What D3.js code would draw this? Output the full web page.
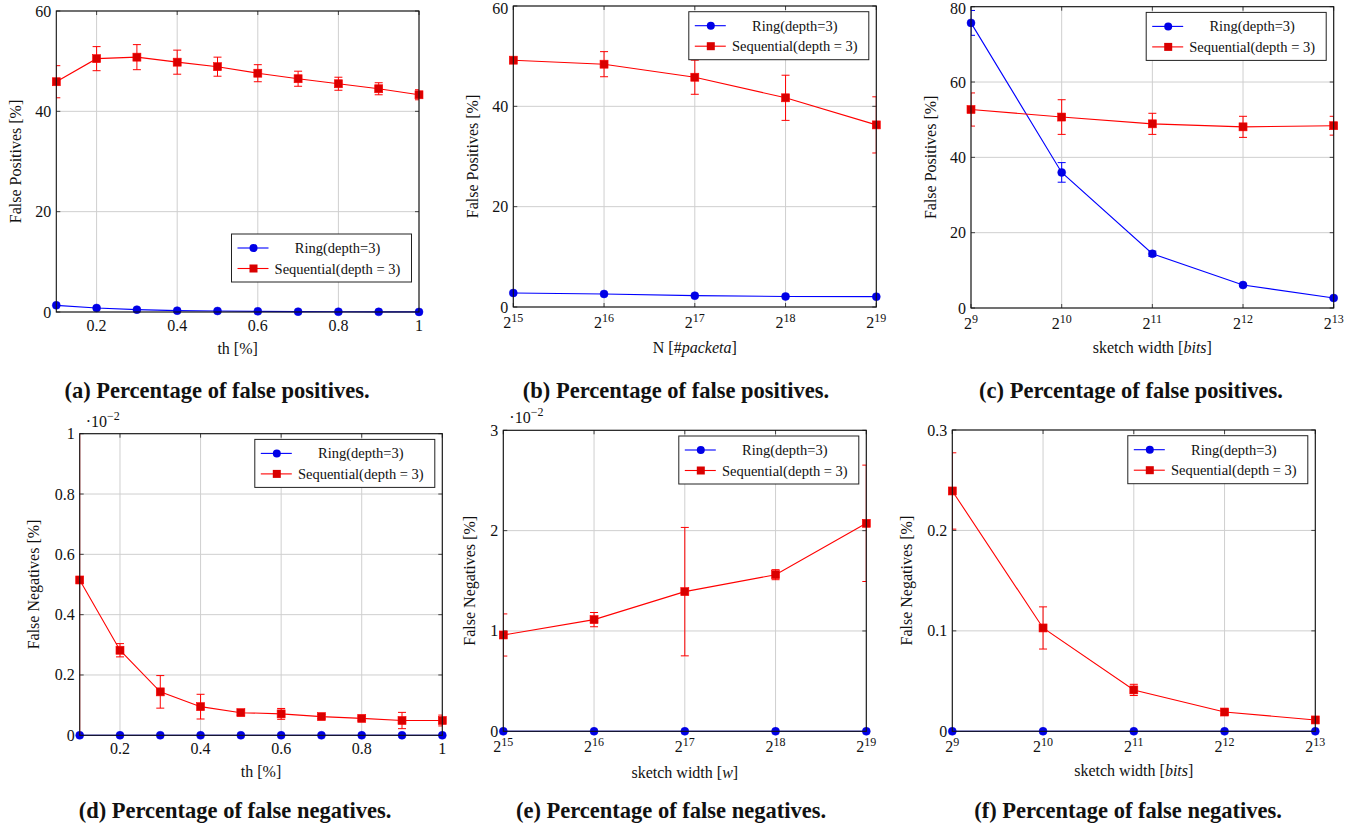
<!DOCTYPE html>
<html><head><meta charset="utf-8">
<script src="https://cdn.jsdelivr.net/npm/d3@7"></script>
<style>
body{margin:0;background:#fff}
svg{display:block}
text{font-family:"Liberation Serif","Times New Roman",serif;fill:#111}
</style>
</head><body>
<svg id="chart" width="1361" height="831"></svg>
<script>
// ---------------- DATA ----------------
const seriesNames = ["Ring(depth=3)", "Sequential(depth = 3)"];

// th [%] thresholds (panels a, d)
const thValues = [0.1, 0.2, 0.3, 0.4, 0.5, 0.6, 0.7, 0.8, 0.9, 1.0];
const thTicks = [0.2, 0.4, 0.6, 0.8, 1];

// N [#packeta] (panel b) and sketch width [w] (panel e)
const packetValues = [32768, 65536, 131072, 262144, 524288];
const packetTicks = [32768, 65536, 131072, 262144, 524288];
// sketch width [bits] (panels c, f)
const bitsValues = [512, 1024, 2048, 4096, 8192];
const bitsTicks = [512, 1024, 2048, 4096, 8192];

// (a) false positives vs th
const fpThRing = [1.33, 0.8, 0.47, 0.27, 0.2, 0.13, 0.07, 0.05, 0.03, 0.02];
const fpThRingErr = [0, 0, 0, 0, 0, 0, 0, 0, 0, 0];
const fpThSeq = [45.9, 50.5, 50.8, 49.8, 48.9, 47.6, 46.5, 45.5, 44.5, 43.3];
const fpThSeqErr = [3.2, 2.4, 2.5, 2.4, 1.9, 1.7, 1.5, 1.3, 1.2, 1.0];
const fpThYTicks = [0, 20, 40, 60];

// (b) false positives vs N
const fpNRing = [2.8, 2.6, 2.26, 2.1, 2.06];
const fpNRingErr = [0, 0, 0, 0, 0];
const fpNSeq = [49.2, 48.4, 45.8, 41.7, 36.3];
const fpNSeqErr = [0, 2.5, 3.4, 4.5, 5.6];
const fpNYTicks = [0, 20, 40, 60];

// (c) false positives vs sketch width
const fpWRing = [75.7, 36.0, 14.4, 6.1, 2.65];
const fpWRingErr = [3.3, 2.6, 0.7, 0.3, 0.2];
const fpWSeq = [52.7, 50.7, 48.9, 48.1, 48.4];
const fpWSeqErr = [4.4, 4.6, 2.8, 2.8, 2.5];
const fpWYTicks = [0, 20, 40, 60, 80];

// (d) false negatives vs th (x 10^-2)
const fnThRing = [0, 0, 0, 0, 0, 0, 0, 0, 0, 0];
const fnThRingErr = [0, 0, 0, 0, 0, 0, 0, 0, 0, 0];
const fnThSeq = [0.515, 0.282, 0.144, 0.095, 0.075, 0.071, 0.062, 0.056, 0.049, 0.049];
const fnThSeqErr = [0.53, 0.022, 0.054, 0.041, 0.009, 0.018, 0.007, 0.007, 0.027, 0.018];
const fnThYTicks = [0, 0.2, 0.4, 0.6, 0.8, 1];

// (e) false negatives vs sketch width [w] (x 10^-2)
const fnNRing = [0, 0, 0, 0, 0];
const fnNRingErr = [0, 0, 0, 0, 0];
const fnNSeq = [0.96, 1.113, 1.392, 1.561, 2.073];
const fnNSeqErr = [0.21, 0.071, 0.64, 0.05, 0.58];
const fnNYTicks = [0, 1, 2, 3];

// (f) false negatives vs sketch width [bits]
const fnWRing = [0, 0, 0, 0, 0];
const fnWRingErr = [0, 0, 0, 0, 0];
const fnWSeq = [0.2393, 0.1029, 0.0412, 0.0192, 0.0113];
const fnWSeqErr = [0.038, 0.021, 0.0056, 0.002, 0.002];
const fnWYTicks = [0, 0.1, 0.2, 0.3];

// ---------------- DRAWING ----------------
const svg = d3.select("#chart");
const BLUE = "#0000ff", BLUE_MARK = "#0000e6";
const RED = "#ff0000", RED_MARK = "#d90000";
const TICK_FS = 16, LABEL_FS = 16;
let clipId = 0;

function drawPanel(cfg) {
  const {x0, x1, y0, y1} = cfg.box;
  const g = svg.append("g");
  const x = cfg.log2
    ? d3.scaleLog().base(2).domain(cfg.xDomain).range([x0, x1])
    : d3.scaleLinear().domain(cfg.xDomain).range([x0, x1]);
  const y = d3.scaleLinear().domain(cfg.yDomain).range([y1, y0]);

  // grid
  g.append("g").selectAll("line").data(cfg.xTicks).join("line")
    .attr("x1", d => x(d)).attr("x2", d => x(d)).attr("y1", y0).attr("y2", y1)
    .attr("stroke", "#cfcfcf").attr("stroke-width", 1);
  g.append("g").selectAll("line").data(cfg.yTicks).join("line")
    .attr("x1", x0).attr("x2", x1).attr("y1", d => y(d)).attr("y2", d => y(d))
    .attr("stroke", "#cfcfcf").attr("stroke-width", 1);

  // inward tick marks
  const tl = 4;
  const tk = g.append("g").attr("stroke", "#444").attr("stroke-width", 1);
  cfg.xTicks.forEach(d => {
    tk.append("line").attr("x1", x(d)).attr("x2", x(d)).attr("y1", y1).attr("y2", y1 - tl);
    tk.append("line").attr("x1", x(d)).attr("x2", x(d)).attr("y1", y0).attr("y2", y0 + tl);
  });
  cfg.yTicks.forEach(d => {
    tk.append("line").attr("x1", x0).attr("x2", x0 + tl).attr("y1", y(d)).attr("y2", y(d));
    tk.append("line").attr("x1", x1).attr("x2", x1 - tl).attr("y1", y(d)).attr("y2", y(d));
  });

  // clip
  const cid = "clip" + (clipId++);
  svg.append("clipPath").attr("id", cid).append("rect")
    .attr("x", x0).attr("y", y0).attr("width", x1 - x0).attr("height", y1 - y0);

  const series = [
    {vals: cfg.ring, errs: cfg.ringErr, line: BLUE, mark: BLUE_MARK, shape: "circle"},
    {vals: cfg.seq, errs: cfg.seqErr, line: RED, mark: RED_MARK, shape: "square"}
  ];
  series.forEach(s => {
    const pts = cfg.xValues.map((xv, i) => ({x: xv, y: s.vals[i], e: s.errs[i]}));
    const sg = g.append("g");
    // error bars
    const eb = sg.append("g").attr("clip-path", `url(#${cid})`)
      .attr("stroke", s.line).attr("stroke-width", 1).attr("fill", "none");
    pts.filter(p => p.e > 0).forEach(p => {
      const px = x(p.x), ylo = y(p.y - p.e), yhi = y(p.y + p.e);
      eb.append("line").attr("x1", px).attr("x2", px).attr("y1", ylo).attr("y2", yhi);
      eb.append("line").attr("x1", px - 4).attr("x2", px + 4).attr("y1", ylo).attr("y2", ylo);
      eb.append("line").attr("x1", px - 4).attr("x2", px + 4).attr("y1", yhi).attr("y2", yhi);
    });
    // line
    sg.append("path").datum(pts)
      .attr("d", d3.line().x(p => x(p.x)).y(p => y(p.y)))
      .attr("fill", "none").attr("stroke", s.line).attr("stroke-width", 1.1);
    // markers
    if (s.shape === "circle") {
      sg.selectAll("circle").data(pts).join("circle")
        .attr("cx", p => x(p.x)).attr("cy", p => y(p.y)).attr("r", 4)
        .attr("fill", s.mark).attr("stroke", s.mark).attr("stroke-width", 0.5);
    } else {
      sg.selectAll("rect").data(pts).join("rect")
        .attr("x", p => x(p.x) - 4).attr("y", p => y(p.y) - 4)
        .attr("width", 8).attr("height", 8)
        .attr("fill", s.mark).attr("stroke", s.line).attr("stroke-width", 0.6);
    }
  });

  // frame
  g.append("rect").attr("x", x0).attr("y", y0).attr("width", x1 - x0).attr("height", y1 - y0)
    .attr("fill", "none").attr("stroke", "#111").attr("stroke-width", 1.1);

  // y tick labels
  g.append("g").selectAll("text").data(cfg.yTicks).join("text")
    .attr("x", x0 - 5).attr("y", d => Math.max(y(d), 8)).attr("text-anchor", "end")
    .attr("dominant-baseline", "central").attr("font-size", TICK_FS)
    .text(d => d3.format("~g")(d));

  // x tick labels
  if (cfg.log2) {
    cfg.xTicks.forEach(d => {
      const t = g.append("text").attr("x", x(d)).attr("y", y1 + 21)
        .attr("text-anchor", "middle").attr("font-size", TICK_FS);
      t.append("tspan").text("2");
      t.append("tspan").attr("font-size", 12).attr("dy", -6).text(Math.round(Math.log2(d)));
    });
  } else {
    g.append("g").selectAll("text").data(cfg.xTicks).join("text")
      .attr("x", d => x(d)).attr("y", y1 + 13).attr("text-anchor", "middle")
      .attr("dominant-baseline", "central").attr("font-size", TICK_FS)
      .text(d => d3.format("~g")(d));
  }

  // axis titles
  const xt = g.append("text").attr("x", (x0 + x1) / 2).attr("y", y1 + cfg.xTitleOff)
    .attr("text-anchor", "middle").attr("dominant-baseline", "central").attr("font-size", LABEL_FS);
  cfg.xLabel.forEach(([txt, it]) => {
    const ts = xt.append("tspan").text(txt);
    if (it) ts.attr("font-style", "italic");
  });
  g.append("text")
    .attr("transform", `translate(${cfg.yLabelX},${(y0 + y1) / 2}) rotate(-90)`)
    .attr("text-anchor", "middle").attr("dominant-baseline", "central").attr("font-size", LABEL_FS)
    .text(cfg.yLabel);

  // scale note
  if (cfg.scaleNote) {
    const t = g.append("text").attr("x", x0 + 6).attr("y", y0 - 13).attr("font-size", 16)
      .attr("dominant-baseline", "central");
    t.append("tspan").text("·10");
    t.append("tspan").attr("font-size", 12).attr("dy", -5).text("−2");
  }

  // legend
  const lw = 180, lh = 48;
  const lx = x1 - 7.5 - lw;
  const ly = cfg.legendBottom ? y1 - 30 - lh : y0 + 5.7;
  const lg = g.append("g").attr("transform", `translate(${lx},${ly})`);
  lg.append("rect").attr("width", lw).attr("height", lh).attr("fill", "#fff")
    .attr("stroke", "#222").attr("stroke-width", 1);
  seriesNames.forEach((name, i) => {
    const s = series[i];
    const yy = 14 + i * 20.5;
    lg.append("line").attr("x1", 6).attr("x2", 37).attr("y1", yy).attr("y2", yy)
      .attr("stroke", s.line).attr("stroke-width", 1.1);
    if (s.shape === "circle") {
      lg.append("circle").attr("cx", 22).attr("cy", yy).attr("r", 4).attr("fill", s.mark);
    } else {
      lg.append("rect").attr("x", 18).attr("y", yy - 4).attr("width", 8).attr("height", 8)
        .attr("fill", s.mark);
    }
    lg.append("text").attr("x", 106).attr("y", yy).attr("text-anchor", "middle")
      .attr("dominant-baseline", "central").attr("font-size", 14.5).text(name);
  });

  // caption
  svg.append("text").attr("x", cfg.capX).attr("y", cfg.capY).attr("text-anchor", "middle")
    .attr("dominant-baseline", "central").attr("font-size", 22.5).attr("font-weight", "bold")
    .text(cfg.caption);
}

drawPanel({
  box: {x0: 56.3, x1: 419, y0: 11, y1: 312},
  xValues: thValues, xDomain: [0.1, 1], xTicks: thTicks,
  yDomain: [0, 60], yTicks: fpThYTicks,
  ring: fpThRing, ringErr: fpThRingErr, seq: fpThSeq, seqErr: fpThSeqErr,
  xLabel: [["th [%]", false]], xTitleOff: 36, yLabel: "False Positives [%]", yLabelX: 15,
  legendBottom: true, caption: "(a) Percentage of false positives.", capX: 217, capY: 390
});
drawPanel({
  box: {x0: 513.3, x1: 876.3, y0: 6, y1: 307}, log2: true,
  xValues: packetValues, xDomain: [32768, 524288], xTicks: packetTicks,
  yDomain: [0, 60], yTicks: fpNYTicks,
  ring: fpNRing, ringErr: fpNRingErr, seq: fpNSeq, seqErr: fpNSeqErr,
  xLabel: [["N [#", false], ["packeta", true], ["]", false]], xTitleOff: 40,
  yLabel: "False Positives [%]", yLabelX: 472.7,
  caption: "(b) Percentage of false positives.", capX: 676, capY: 390
});
drawPanel({
  box: {x0: 971, x1: 1333.7, y0: 6.7, y1: 308}, log2: true,
  xValues: bitsValues, xDomain: [512, 8192], xTicks: bitsTicks,
  yDomain: [0, 80], yTicks: fpWYTicks,
  ring: fpWRing, ringErr: fpWRingErr, seq: fpWSeq, seqErr: fpWSeqErr,
  xLabel: [["sketch width [", false], ["bits", true], ["]", false]], xTitleOff: 39,
  yLabel: "False Positives [%]", yLabelX: 930,
  caption: "(c) Percentage of false positives.", capX: 1131, capY: 390
});
drawPanel({
  box: {x0: 79.7, x1: 442.3, y0: 433.7, y1: 735.3},
  xValues: thValues, xDomain: [0.1, 1], xTicks: thTicks,
  yDomain: [0, 1], yTicks: fnThYTicks,
  ring: fnThRing, ringErr: fnThRingErr, seq: fnThSeq, seqErr: fnThSeqErr,
  xLabel: [["th [%]", false]], xTitleOff: 36, yLabel: "False Negatives [%]", yLabelX: 33,
  scaleNote: true, caption: "(d) Percentage of false negatives.", capX: 235, capY: 810
});
drawPanel({
  box: {x0: 503.3, x1: 866.3, y0: 430.3, y1: 731.3}, log2: true,
  xValues: packetValues, xDomain: [32768, 524288], xTicks: packetTicks,
  yDomain: [0, 3], yTicks: fnNYTicks,
  ring: fnNRing, ringErr: fnNRingErr, seq: fnNSeq, seqErr: fnNSeqErr,
  xLabel: [["sketch width [", false], ["w", true], ["]", false]], xTitleOff: 41,
  yLabel: "False Negatives [%]", yLabelX: 469,
  scaleNote: true, caption: "(e) Percentage of false negatives.", capX: 671, capY: 810
});
drawPanel({
  box: {x0: 952.3, x1: 1315.3, y0: 430, y1: 731.3}, log2: true,
  xValues: bitsValues, xDomain: [512, 8192], xTicks: bitsTicks,
  yDomain: [0, 0.3], yTicks: fnWYTicks,
  ring: fnWRing, ringErr: fnWRingErr, seq: fnWSeq, seqErr: fnWSeqErr,
  xLabel: [["sketch width [", false], ["bits", true], ["]", false]], xTitleOff: 39,
  yLabel: "False Negatives [%]", yLabelX: 906,
  caption: "(f) Percentage of false negatives.", capX: 1128, capY: 810
});
</script>
</body></html>
